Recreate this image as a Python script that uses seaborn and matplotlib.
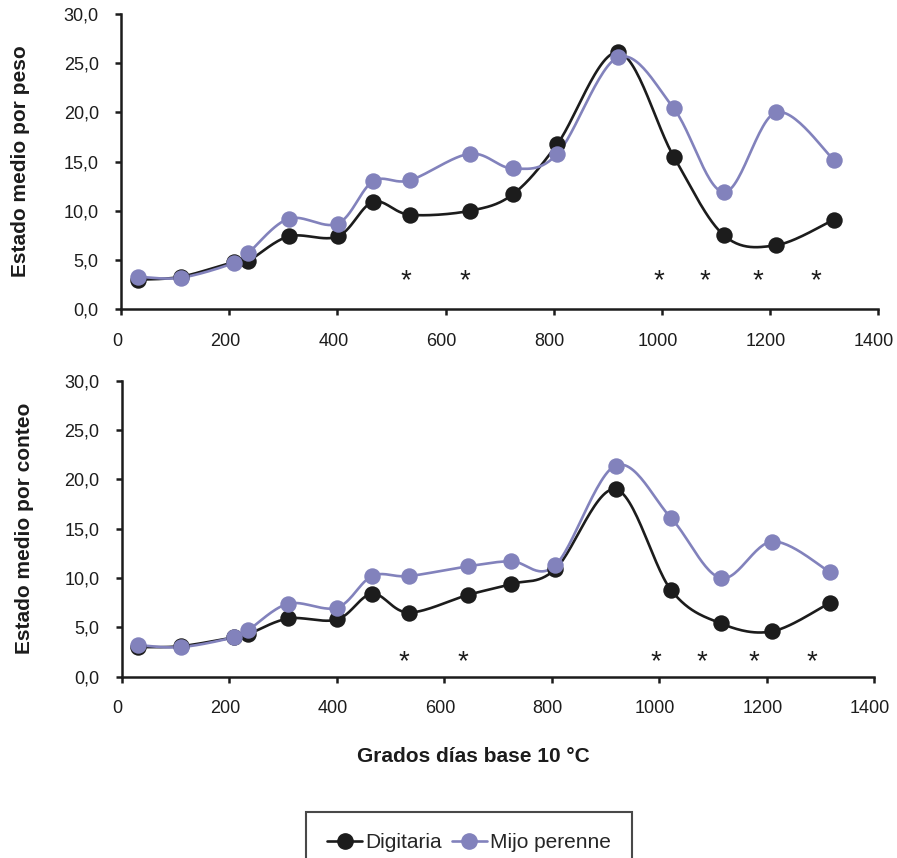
import numpy as np
import pandas as pd
import matplotlib
matplotlib.use("Agg")
import matplotlib.pyplot as plt
import matplotlib.transforms as mtrans
import seaborn as sns
from matplotlib.lines import Line2D

# Data
gdd = [31, 111, 209, 235, 310, 401, 466, 534, 645, 725, 807, 919, 1022, 1115, 1211, 1318]

peso_digitaria = [3.0, 3.3, 4.8, 4.9, 7.4, 7.4, 10.9, 9.6, 10.0, 11.7, 16.8, 26.1, 15.5, 7.5, 6.5, 9.1]
peso_mijo = [3.3, 3.2, 4.7, 5.7, 9.2, 8.7, 13.0, 13.1, 15.8, 14.3, 15.8, 25.6, 20.4, 11.9, 20.0, 15.2]

conteo_digitaria = [3.0, 3.1, 4.0, 4.3, 5.9, 5.8, 8.4, 6.5, 8.3, 9.4, 10.9, 19.0, 8.8, 5.4, 4.6, 7.5]
conteo_mijo = [3.2, 3.0, 4.0, 4.7, 7.4, 7.0, 10.2, 10.2, 11.2, 11.7, 11.3, 21.4, 16.1, 10.0, 13.7, 10.6]

star_x = [526, 635, 994, 1079, 1177, 1284]
star_y_peso = 2.1
star_y_conteo = 0.75

black = "#1c1c1c"
lila = "#8282bc"


def smooth(x, y, n=30):
    # Excel-style smoothed line (Catmull-Rom bezier)
    x = np.asarray(x, float)
    y = np.asarray(y, float)
    px = np.concatenate([[x[0]], x, [x[-1]]])
    py = np.concatenate([[y[0]], y, [y[-1]]])
    t = np.linspace(0, 1, n)[:, None]
    xs, ys = [], []
    for i in range(1, len(px) - 2):
        b0x, b0y = px[i], py[i]
        b3x, b3y = px[i + 1], py[i + 1]
        b1x = b0x + (px[i + 1] - px[i - 1]) / 6
        b1y = b0y + (py[i + 1] - py[i - 1]) / 6
        b2x = b3x - (px[i + 2] - px[i]) / 6
        b2y = b3y - (py[i + 2] - py[i]) / 6
        c = [(1 - t) ** 3, 3 * (1 - t) ** 2 * t, 3 * (1 - t) * t ** 2, t ** 3]
        xs.append((c[0] * b0x + c[1] * b1x + c[2] * b2x + c[3] * b3x).ravel())
        ys.append((c[0] * b0y + c[1] * b1y + c[2] * b2y + c[3] * b3y).ravel())
    return np.concatenate(xs), np.concatenate(ys)


sns.set_style("ticks")
plt.rcParams["font.family"] = ["Liberation Sans", "DejaVu Sans"]

fig = plt.figure(figsize=(8.97, 8.58), dpi=100)
ax1 = fig.add_axes([0.1349, 0.6396, 0.8441, 0.3441])
ax2 = fig.add_axes([0.1357, 0.2113, 0.8387, 0.3450])

panels = [
    (ax1, peso_digitaria, peso_mijo, "Estado medio por peso", star_y_peso, 30),
    (ax2, conteo_digitaria, conteo_mijo, "Estado medio por conteo", star_y_conteo, 34),
]

shift = mtrans.ScaledTranslation(-4 / 100, 0, fig.dpi_scale_trans)

for ax, dig, mijo, ylab, sy, labx in panels:
    for vals, col in [(dig, black), (mijo, lila)]:
        sx, syy = smooth(gdd, vals)
        sns.lineplot(x=sx, y=syy, sort=False, estimator=None, color=col,
                     linewidth=1.9, ax=ax, zorder=2)
        sns.scatterplot(x=gdd, y=vals, color=col, s=140, edgecolor=col,
                        linewidth=0, ax=ax, zorder=3)
    for xs in star_x:
        ax.text(xs, sy, "*", ha="center", va="baseline", fontsize=20, color=black)

    ax.set_xlim(0, 1400)
    ax.set_ylim(0, 30)
    ax.set_xticks(range(0, 1401, 200))
    ax.set_yticks(np.arange(0, 30.1, 5))
    ax.set_yticklabels([f"{v:.1f}".replace(".", ",") for v in np.arange(0, 30.1, 5)])
    ax.tick_params(axis="both", direction="out", length=4.5, width=1.8,
                   labelsize=13, color=black, labelcolor=black)
    ax.tick_params(axis="x", pad=12.5)
    ax.tick_params(axis="y", pad=11.5)
    for lab in ax.get_xticklabels():
        lab.set_transform(lab.get_transform() + shift)
    for s in ["left", "bottom"]:
        ax.spines[s].set_linewidth(1.8)
        ax.spines[s].set_color(black)
    sns.despine(ax=ax)
    ax.set_ylabel(ylab, fontsize=15, fontweight="bold", color=black)
    axw = ax.get_position().width * 897
    ax.yaxis.set_label_coords(-(ax.get_position().x0 * 897 - labx) / axw, 0.5)

fig.text(0.5275, 1 - 757 / 858, "Grados días base 10 °C", ha="center", va="center",
         fontsize=15, fontweight="bold", color=black)

handles = [
    Line2D([], [], color=black, marker="o", markersize=11, linewidth=1.9),
    Line2D([], [], color=lila, marker="o", markersize=11, linewidth=1.9),
]
leg = fig.legend(handles, ["Digitaria", "Mijo perenne"], loc="upper center",
                 bbox_to_anchor=(469 / 897, 1 - 812 / 858), ncol=2, fontsize=15,
                 frameon=True, fancybox=False, borderpad=1.0, borderaxespad=0,
                 handlelength=1.7, handletextpad=0.15, columnspacing=0.45)
leg.get_frame().set_edgecolor(black)
leg.get_frame().set_linewidth(1.5)

fig.savefig("out.png", dpi=100)
